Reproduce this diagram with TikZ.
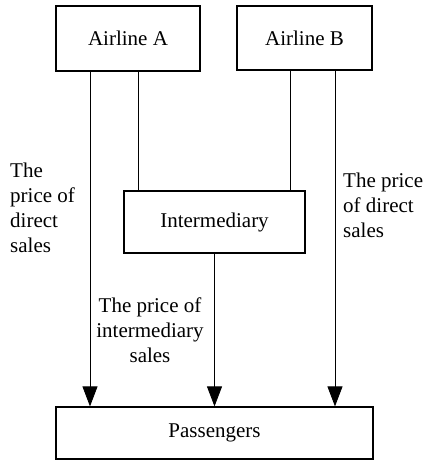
\documentclass[tikz,border=0pt]{standalone}
\usepackage{fontspec}
\setmainfont{Liberation Serif}
\usetikzlibrary{arrows.meta}
\tikzset{
  box/.style={draw, line width=1.2pt, inner sep=0pt, font=\fontsize{21}{25}\selectfont},
  price/.style={inner sep=0pt, font=\fontsize{21}{25}\selectfont},
  link/.style={line width=0.8pt},
  flow/.style={line width=0.8pt, -{Triangle[length=20pt,width=15pt]}},
}
\begin{document}
\begin{tikzpicture}[x=1pt,y=-1pt]
\useasboundingbox (0,0) rectangle (431,460);
\node[box, minimum width=144pt, minimum height=65pt] (airA) at (128,38.5) {Airline A};
\node[box, minimum width=135pt, minimum height=64pt] (airB) at (304.5,38) {Airline B};
\node[box, minimum width=181pt, minimum height=62pt] (mid) at (214.5,222) {Intermediary};
\node[box, minimum width=317pt, minimum height=52pt] (pass) at (214.5,433) {Passengers};

\coordinate (a1) at ([xshift=-38pt]airA.south);
\coordinate (a2) at ([xshift=10pt]airA.south);
\coordinate (b1) at ([xshift=-14.5pt]airB.south);
\coordinate (b2) at ([xshift=30.5pt]airB.south);
\draw[link] (a2) -- (a2 |- mid.north);
\draw[link] (b1) -- (b1 |- mid.north);
\foreach \c in {a1,b2,mid.south}
  \draw[flow] (\c) -- (\c |- pass.north);

\node[price, align=left, anchor=north west] (directA) at (10,163) {The\\price of\\direct\\sales};
\node[price, align=left, anchor=north west] (directB) at (343,173) {The price\\of direct\\sales};
\node[price, align=center, anchor=north] (via) at (150,298) {The price of\\intermediary\\sales};
\end{tikzpicture}
\end{document}
